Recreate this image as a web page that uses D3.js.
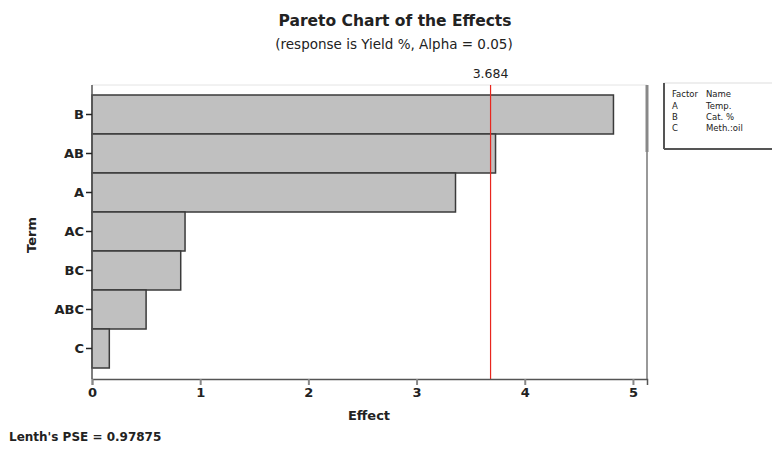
<!DOCTYPE html>
<html>
<head>
<meta charset="utf-8">
<script src="https://cdn.jsdelivr.net/npm/d3@7"></script>
<style>
  body { margin: 0; background: #fff; }
  text { font-family: "DejaVu Sans", Verdana, sans-serif; fill: #222; }
</style>
</head>
<body>
<script>
// Chart size
const w = 772;
const h = 452;

// Data
const terms = ["B", "AB", "A", "AC", "BC", "ABC", "C"];
const effects = [4.82, 3.73, 3.36, 0.86, 0.82, 0.50, 0.16];
const xTicks = [0, 1, 2, 3, 4, 5];
const critical = 3.684;
const factors = ["A", "B", "C"];
const factorNames = ["Temp.", "Cat. %", "Meth.:oil"];

// Plot area
const plotL = 92, plotR = 647, plotT = 85, plotB = 379;

const svg = d3.select("body").append("svg").attr("width", w).attr("height", h);

const x = d3.scaleLinear().domain([0, 5.13]).range([plotL, plotR]);
const y = d3.scaleBand().domain(terms).range([plotT + 10, plotB - 11]).padding(0);

// frame: light top, gray right
svg.append("line").attr("x1", plotL).attr("x2", plotR).attr("y1", plotT).attr("y2", plotT)
  .attr("stroke", "#e4e4e4").attr("stroke-width", 1);
svg.append("line").attr("x1", plotR).attr("x2", plotR).attr("y1", plotT).attr("y2", plotB)
  .attr("stroke", "#777").attr("stroke-width", 1.5);
svg.append("line").attr("x1", plotR).attr("x2", plotR).attr("y1", plotT).attr("y2", 152)
  .attr("stroke", "#888").attr("stroke-width", 3);

// bars
svg.selectAll("rect.bar")
  .data(terms)
  .enter()
  .append("rect")
  .attr("class", "bar")
  .attr("x", x(0))
  .attr("y", function (d) { return y(d); })
  .attr("width", function (d, i) { return x(effects[i]) - x(0); })
  .attr("height", y.bandwidth())
  .attr("fill", "#c0c0c0")
  .attr("stroke", "#3a3a3a")
  .attr("stroke-width", 1.5);

// reference line
svg.append("line")
  .attr("x1", x(critical)).attr("x2", x(critical))
  .attr("y1", plotT).attr("y2", plotB)
  .attr("stroke", "#e8261e").attr("stroke-width", 1.2);
svg.append("text")
  .attr("x", x(critical)).attr("y", 78)
  .attr("text-anchor", "middle")
  .attr("font-size", 12.5)
  .text(critical.toFixed(3));

// x axis
const xAxis = svg.append("g")
  .attr("transform", "translate(0," + plotB + ")")
  .call(d3.axisBottom(x).tickValues(xTicks).tickFormat(d3.format("d")).tickSize(6).tickPadding(3));
xAxis.select(".domain").attr("stroke", "#555").attr("stroke-width", 1.5);
xAxis.selectAll(".tick line").attr("stroke", "#888").attr("stroke-width", 2);
xAxis.selectAll(".tick text")
  .attr("font-size", 13).attr("font-weight", "bold")
  .attr("font-family", "DejaVu Sans, sans-serif").attr("fill", "#222");

// y axis
const yAxis = svg.append("g")
  .attr("transform", "translate(" + plotL + ",0)")
  .call(d3.axisLeft(y).tickSize(6).tickPadding(2).tickSizeOuter(0));
yAxis.select(".domain").attr("stroke", "#555").attr("stroke-width", 1.5)
  .attr("d", "M0," + plotT + "V" + plotB);
yAxis.selectAll(".tick line").attr("stroke", "#222").attr("stroke-width", 1.5);
yAxis.selectAll(".tick text")
  .attr("font-size", 13).attr("font-weight", "bold")
  .attr("font-family", "DejaVu Sans, sans-serif").attr("fill", "#222");

// titles
svg.append("text").attr("x", 395).attr("y", 26).attr("text-anchor", "middle")
  .attr("font-size", 15.5).attr("font-weight", "bold")
  .text("Pareto Chart of the Effects");
svg.append("text").attr("x", 394).attr("y", 49).attr("text-anchor", "middle")
  .attr("font-size", 13.5)
  .text("(response is Yield %, Alpha = 0.05)");
svg.append("text").attr("x", 369).attr("y", 420).attr("text-anchor", "middle")
  .attr("font-size", 13).attr("font-weight", "bold")
  .text("Effect");
svg.append("text")
  .attr("transform", "translate(36,235) rotate(-90)")
  .attr("text-anchor", "middle")
  .attr("font-size", 13).attr("font-weight", "bold")
  .text("Term");
svg.append("text").attr("x", 9).attr("y", 441)
  .attr("font-size", 12).attr("font-weight", "bold")
  .text("Lenth's PSE = 0.97875");

// legend box
const lg = svg.append("g");
lg.append("rect").attr("x", 664).attr("y", 83).attr("width", 120).attr("height", 66)
  .attr("fill", "#fff").attr("stroke", "#ddd");
lg.append("line").attr("x1", 664).attr("x2", 664).attr("y1", 83).attr("y2", 149)
  .attr("stroke", "#555").attr("stroke-width", 2);
lg.append("line").attr("x1", 664).attr("x2", 772).attr("y1", 149).attr("y2", 149)
  .attr("stroke", "#555").attr("stroke-width", 2);
lg.append("text").attr("x", 672).attr("y", 97).attr("font-size", 8.5).attr("fill", "#444").text("Factor");
lg.append("text").attr("x", 706).attr("y", 97).attr("font-size", 8.5).attr("fill", "#444").text("Name");
lg.selectAll("text.f").data(factors).enter().append("text").attr("class", "f")
  .attr("x", 672).attr("y", function (d, i) { return 108.5 + i * 11.3; })
  .attr("font-size", 8.5).attr("fill", "#444").text(function (d) { return d; });
lg.selectAll("text.n").data(factorNames).enter().append("text").attr("class", "n")
  .attr("x", 706).attr("y", function (d, i) { return 108.5 + i * 11.3; })
  .attr("font-size", 8.5).attr("fill", "#444").text(function (d) { return d; });
</script>
</body>
</html>
